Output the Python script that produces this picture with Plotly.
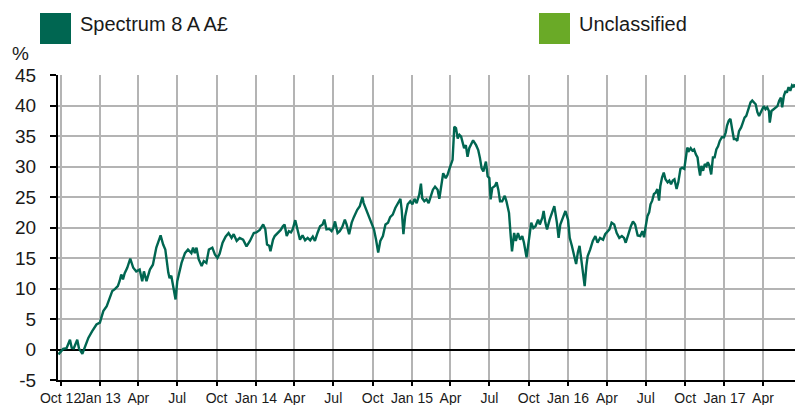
import plotly.graph_objects as go

# Cumulative performance, Spectrum 8 A A£ (%)
dates = [
    "2012-09-26", "2012-10-01", "2012-10-07", "2012-10-15", "2012-10-23", "2012-10-27",
    "2012-11-01", "2012-11-09", "2012-11-13", "2012-11-21", "2012-11-29", "2012-12-05",
    "2012-12-14", "2012-12-24", "2013-01-01", "2013-01-09", "2013-01-17", "2013-01-25",
    "2013-01-30", "2013-02-05", "2013-02-12", "2013-02-16", "2013-02-20", "2013-02-24",
    "2013-02-28", "2013-03-06", "2013-03-13", "2013-03-20", "2013-03-27", "2013-04-04",
    "2013-04-10", "2013-04-14", "2013-04-20", "2013-04-28", "2013-05-05", "2013-05-13",
    "2013-05-23", "2013-05-29", "2013-06-03", "2013-06-10", "2013-06-13", "2013-06-17",
    "2013-06-21", "2013-06-27", "2013-07-01", "2013-07-05", "2013-07-11", "2013-07-19",
    "2013-07-26", "2013-08-03", "2013-08-07", "2013-08-11", "2013-08-15", "2013-08-20",
    "2013-08-27", "2013-09-01", "2013-09-07", "2013-09-13", "2013-09-21", "2013-09-27",
    "2013-10-03", "2013-10-08", "2013-10-15", "2013-10-22", "2013-10-29", "2013-11-05",
    "2013-11-10", "2013-11-17", "2013-11-24", "2013-12-02", "2013-12-10", "2013-12-18",
    "2013-12-27",
    "2014-01-02", "2014-01-10", "2014-01-18", "2014-01-23", "2014-01-27", "2014-02-01",
    "2014-02-04", "2014-02-10", "2014-02-14", "2014-02-21", "2014-02-28", "2014-03-05",
    "2014-03-09", "2014-03-14", "2014-03-19", "2014-03-24", "2014-03-28", "2014-04-03",
    "2014-04-09", "2014-04-14", "2014-04-20", "2014-04-26", "2014-05-02", "2014-05-08",
    "2014-05-14", "2014-05-19", "2014-05-25", "2014-05-31", "2014-06-06", "2014-06-10",
    "2014-06-15", "2014-06-21", "2014-06-27", "2014-07-01", "2014-07-05", "2014-07-11",
    "2014-07-16", "2014-07-22", "2014-07-28", "2014-08-01", "2014-08-07", "2014-08-13",
    "2014-08-18", "2014-08-26", "2014-09-01", "2014-09-07", "2014-09-10", "2014-09-16",
    "2014-09-22", "2014-09-28", "2014-10-04", "2014-10-09", "2014-10-14", "2014-10-19",
    "2014-10-25", "2014-10-31", "2014-11-06", "2014-11-11", "2014-11-17", "2014-11-23",
    "2014-11-28", "2014-12-05", "2014-12-08", "2014-12-12", "2014-12-16", "2014-12-22",
    "2014-12-28", "2015-01-02", "2015-01-07", "2015-01-12", "2015-01-18", "2015-01-22",
    "2015-01-25", "2015-01-30", "2015-02-04", "2015-02-09", "2015-02-14", "2015-02-19",
    "2015-02-24", "2015-03-02", "2015-03-06", "2015-03-10", "2015-03-15", "2015-03-21",
    "2015-03-25",
    "2015-03-29", "2015-04-02", "2015-04-06", "2015-04-10", "2015-04-14", "2015-04-18",
    "2015-04-22", "2015-04-26", "2015-04-30", "2015-05-03", "2015-05-07", "2015-05-11",
    "2015-05-15", "2015-05-19", "2015-05-24", "2015-05-31", "2015-06-05", "2015-06-09",
    "2015-06-13", "2015-06-17", "2015-06-23", "2015-06-27", "2015-07-01", "2015-07-04",
    "2015-07-08", "2015-07-14", "2015-07-18", "2015-07-22", "2015-07-26", "2015-07-31",
    "2015-08-06", "2015-08-10", "2015-08-16", "2015-08-20", "2015-08-23", "2015-08-28",
    "2015-09-01", "2015-09-06", "2015-09-11", "2015-09-16", "2015-09-20", "2015-09-26",
    "2015-10-02", "2015-10-07", "2015-10-12", "2015-10-17", "2015-10-23", "2015-10-27",
    "2015-11-02", "2015-11-05", "2015-11-09", "2015-11-13", "2015-11-19", "2015-11-25",
    "2015-11-30", "2015-12-06", "2015-12-10", "2015-12-14", "2015-12-20", "2015-12-26",
    "2016-01-01", "2016-01-05", "2016-01-10", "2016-01-16", "2016-01-20", "2016-01-24",
    "2016-01-28", "2016-02-01", "2016-02-05", "2016-02-09", "2016-02-13", "2016-02-16",
    "2016-02-22", "2016-02-28", "2016-03-05", "2016-03-10", "2016-03-16", "2016-03-23",
    "2016-03-28", "2016-04-02", "2016-04-07", "2016-04-12", "2016-04-18", "2016-04-24",
    "2016-04-30", "2016-05-06", "2016-05-11", "2016-05-15", "2016-05-21", "2016-05-27",
    "2016-06-01", "2016-06-06", "2016-06-12", "2016-06-18", "2016-06-23",
    "2016-06-27", "2016-07-01", "2016-07-05", "2016-07-09", "2016-07-12", "2016-07-16",
    "2016-07-20", "2016-07-24", "2016-07-28", "2016-08-01", "2016-08-04", "2016-08-08",
    "2016-08-12", "2016-08-16", "2016-08-21", "2016-08-25", "2016-08-29", "2016-09-02",
    "2016-09-06", "2016-09-11", "2016-09-15", "2016-09-20", "2016-09-24", "2016-09-29",
    "2016-10-02", "2016-10-06", "2016-10-10", "2016-10-14", "2016-10-18", "2016-10-22",
    "2016-10-26", "2016-10-30", "2016-11-02", "2016-11-05", "2016-11-08", "2016-11-12",
    "2016-11-16", "2016-11-20", "2016-11-23", "2016-11-27", "2016-12-01", "2016-12-05",
    "2016-12-09", "2016-12-13", "2016-12-17", "2016-12-21", "2016-12-26", "2016-12-31",
    "2017-01-04", "2017-01-07", "2017-01-11", "2017-01-15", "2017-01-19", "2017-01-23",
    "2017-01-27", "2017-01-31", "2017-02-04", "2017-02-09", "2017-02-13", "2017-02-17",
    "2017-02-21", "2017-02-25", "2017-02-28", "2017-03-03", "2017-03-07", "2017-03-11",
    "2017-03-15", "2017-03-19", "2017-03-23", "2017-03-27", "2017-03-31", "2017-04-03",
    "2017-04-07", "2017-04-11", "2017-04-15", "2017-04-17", "2017-04-21", "2017-04-26",
    "2017-04-30", "2017-05-05", "2017-05-09", "2017-05-13", "2017-05-16", "2017-05-20",
    "2017-05-24", "2017-05-27", "2017-05-31", "2017-06-04", "2017-06-08", "2017-06-12",
    "2017-06-14",
]

returns = [
    -0.8, -0.3, 0.1, 0.2, 1.6, 0.3,
    0.2, 1.6, 0.2, -0.7, 0.9, 1.9,
    3.0, 4.1, 4.4, 6.3, 7.1, 8.7,
    9.6, 9.9, 10.4, 11.2, 12.3, 11.5,
    12.5, 13.4, 14.9, 13.4, 12.8, 13.1,
    11.2, 12.8, 11.2, 13.1, 13.9, 16.7,
    18.7, 17.2, 16.4, 12.6, 11.7, 12.1,
    10.7, 8.2, 11.2, 12.3, 14.2, 15.8,
    16.4, 15.8, 16.7, 15.8, 16.7, 14.8,
    13.7, 14.5, 14.2, 16.4, 16.7, 15.6,
    15.0, 15.7, 17.5, 18.5, 19.1, 18.3,
    18.9, 17.8, 18.3, 18.0, 16.9, 17.8,
    19.1,
    19.2, 19.6, 20.5, 19.7, 17.2, 17.0,
    16.1, 18.0, 18.6, 19.1, 19.6, 20.2,
    20.5, 18.6, 19.4, 19.2, 19.7, 21.2,
    19.4, 18.0, 18.7, 17.9, 18.3, 17.9,
    18.5, 17.8, 19.1, 20.2, 20.5, 21.3,
    19.7, 19.8, 19.4, 19.9, 21.0, 19.1,
    19.4, 20.1, 21.3, 20.5, 18.9, 20.8,
    21.7, 22.9, 23.5, 25.0, 24.0, 22.9,
    21.8, 20.5, 19.7, 18.0, 15.9, 17.8,
    18.6, 20.5, 20.8, 21.7, 22.1, 23.2,
    23.8, 24.7, 22.9, 18.9, 21.8, 23.8,
    24.3, 23.8, 24.7, 24.0, 25.4, 27.2,
    24.8, 24.3, 24.6, 24.0, 25.1, 26.2,
    26.7, 26.2, 24.7, 26.7, 28.9, 28.1,
    28.6,
    29.5, 30.3, 31.1, 36.5, 36.3, 34.6,
    35.2, 34.9, 33.8, 33.0, 33.5, 31.6,
    33.0, 33.5, 34.3, 33.5, 32.7, 31.4,
    29.7, 29.2, 30.8, 28.4, 28.1, 24.6,
    26.5, 26.8, 27.4, 26.2, 24.3, 24.3,
    25.2, 24.3, 22.4, 18.6, 16.1, 19.1,
    17.8, 19.1, 18.0, 18.6, 17.5, 15.1,
    18.6, 20.8, 19.9, 20.2, 21.3, 20.5,
    21.6, 22.7, 20.8, 19.7, 21.3, 22.4,
    23.5, 20.8, 18.3, 20.5, 21.6, 22.7,
    21.3, 18.3, 17.0, 15.3, 14.0, 15.9,
    17.0, 14.8, 12.6, 10.4, 13.7, 15.3,
    16.4, 17.8, 18.6, 17.5, 18.3, 18.0,
    18.9, 19.4, 19.7, 20.8, 20.5, 19.1,
    18.3, 18.6, 18.3, 17.5, 18.9, 20.2,
    21.0, 20.5, 18.7, 18.6, 19.4,
    18.4, 20.3, 21.9, 22.5, 23.8, 24.4,
    25.5, 25.7, 26.3, 24.4, 26.8, 28.2,
    29.0, 27.9, 27.4, 27.7, 27.1, 27.7,
    27.9, 26.3, 27.4, 29.6, 29.8, 29.6,
    31.2, 33.1, 32.6, 33.0, 32.6, 32.8,
    32.0, 31.5, 29.8, 28.5, 30.1, 29.3,
    30.4, 30.1, 30.7, 30.1, 28.7, 31.5,
    31.5, 32.8, 33.3, 34.2, 34.8, 34.8,
    35.6, 36.7, 37.5, 37.8, 36.1, 34.5,
    34.5, 34.2, 35.8, 36.4, 37.2, 38.0,
    38.3, 39.1, 39.9, 40.5, 40.8, 40.5,
    40.2, 38.9, 38.3, 38.9, 39.4, 39.9,
    39.4, 39.7, 39.1, 37.2, 39.1, 39.4,
    39.7, 39.9, 40.8, 41.3, 39.7, 41.6,
    42.4, 42.1, 43.0, 42.4, 43.3, 43.0,
    43.5,
]

tick_dates = [
    "2012-10-01", "2013-01-01", "2013-04-01", "2013-07-01", "2013-10-01",
    "2014-01-01", "2014-04-01", "2014-07-01", "2014-10-01",
    "2015-01-01", "2015-04-01", "2015-07-01", "2015-10-01",
    "2016-01-01", "2016-04-01", "2016-07-01", "2016-10-01",
    "2017-01-01", "2017-04-01",
]
tick_labels = [
    "Oct 12", "Jan 13", "Apr", "Jul", "Oct",
    "Jan 14", "Apr", "Jul", "Oct",
    "Jan 15", "Apr", "Jul", "Oct",
    "Jan 16", "Apr", "Jul", "Oct",
    "Jan 17", "Apr",
]
y_ticks = [-5, 0, 5, 10, 15, 20, 25, 30, 35, 40, 45]
y_tick_labels = ["-5", "0", "5", "10", "15", "20", "25", "30", "35", "40", "45"]

series_names = ["Spectrum 8 A A£", "Unclassified"]
series_colors = ["#006651", "#6aaa27"]

W, H = 795, 405
ML, MR, MT, MB = 58, 0, 75, 25
PW, PH = W - ML - MR, H - MT - MB
FONT = "Arial, 'Liberation Sans', sans-serif"


def px(x, y):
    """Pixel position on the page -> paper coordinates."""
    return (x - ML) / PW, (H - MB - y) / PH


fig = go.Figure()
fig.add_trace(go.Scatter(
    x=dates, y=returns, mode="lines",
    line=dict(color=series_colors[0], width=2.4),
    name=series_names[0], showlegend=False,
))

# Legend drawn as large swatches with labels above the plot
shapes = []
annotations = []
for (sx, tx), name, color in zip([(40, 78), (539, 577)], series_names, series_colors):
    x0, y0 = px(sx, 44)
    x1, y1 = px(sx + 31, 13)
    shapes.append(dict(type="rect", xref="paper", yref="paper",
                       x0=x0, x1=x1, y0=y0, y1=y1,
                       fillcolor=color, line=dict(width=0)))
    ax, ay = px(tx, 24)
    annotations.append(dict(xref="paper", yref="paper", x=ax, y=ay,
                            xanchor="left", yanchor="middle", showarrow=False,
                            text=name, font=dict(size=20, color="#1a1a1a", family=FONT)))

ux, uy = px(10, 54)
annotations.append(dict(xref="paper", yref="paper", x=ux, y=uy,
                        xanchor="left", yanchor="middle", showarrow=False,
                        text="%", font=dict(size=19, color="#1a1a1a", family=FONT)))

fig.update_layout(
    width=W, height=H,
    margin=dict(l=ML, r=MR, t=MT, b=MB, pad=0, autoexpand=False),
    paper_bgcolor="white", plot_bgcolor="white",
    font=dict(family=FONT, color="#1a1a1a"),
    shapes=shapes, annotations=annotations,
    showlegend=False,
)
fig.update_xaxes(
    type="date", range=["2012-09-25", "2017-06-15"],
    tickmode="array", tickvals=tick_dates, ticktext=tick_labels,
    tickangle=0, automargin=False,
    tickfont=dict(size=14, family=FONT, color="#1a1a1a"),
    showgrid=True, gridcolor="#b4b4b4", gridwidth=2,
    showline=True, linecolor="black", linewidth=2,
    ticks="outside", ticklen=4, tickwidth=2, tickcolor="black",
    ticklabelstandoff=0,
)
fig.update_yaxes(
    range=[-5, 45], tickmode="array", tickvals=y_ticks, ticktext=y_tick_labels,
    automargin=False,
    tickfont=dict(size=19, family=FONT, color="#1a1a1a"),
    showgrid=True, gridcolor="#b4b4b4", gridwidth=2,
    zeroline=True, zerolinecolor="black", zerolinewidth=2,
    showline=True, linecolor="black", linewidth=2,
    ticks="outside", ticklen=6, tickwidth=2, tickcolor="black",
    ticklabelstandoff=10,
)

fig.write_html("out.html")
